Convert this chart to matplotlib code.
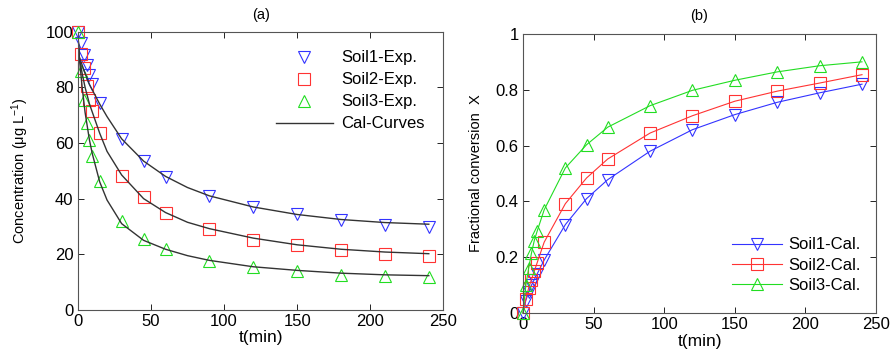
import matplotlib.pyplot as plt

plt.rcParams['font.family'] = ['Liberation Sans', 'DejaVu Sans']
plt.rcParams['mathtext.fontset'] = 'custom'
plt.rcParams['mathtext.rm'] = 'Liberation Sans'
plt.rcParams['mathtext.it'] = 'Liberation Sans'

# experimental sampling times (min)
t_exp = [0, 2, 4, 6, 8, 10, 15, 30, 45, 60, 90, 120, 150, 180, 210, 240]

# (a) concentrations (ug/L)
soil1_exp = [100, 95.8, 91.6, 87.9, 84.5, 81.3, 74.3, 61.3, 53.5, 47.9, 41.0, 36.9, 34.4, 32.3, 30.5, 29.7]
soil2_exp = [100, 92.0, 87.0, 80.5, 75.5, 71.5, 63.5, 48.3, 40.5, 35.0, 29.0, 25.2, 23.2, 21.6, 20.2, 19.3]
soil3_exp = [100, 86.0, 75.4, 67.3, 61.0, 55.4, 46.3, 32.1, 25.4, 21.8, 17.4, 15.3, 13.8, 12.6, 12.2, 11.7]

# calculated curves
t_cal = [0, 1, 3, 5, 8, 10, 15, 20, 30, 45, 60, 75, 90, 120, 150, 180, 210, 240]
soil1_cal = [100, 91, 88, 85, 81, 79, 74, 69.5, 61.5, 53.5, 48, 44, 41, 37, 34.3, 32.5, 31.4, 30.8]
soil2_cal = [100, 91, 85, 80, 74, 71, 63.5, 57, 48.5, 40, 35, 31.5, 29.2, 25.8, 23.4, 21.8, 20.8, 20.2]
soil3_cal = [100, 91, 80, 71, 61, 56, 46, 39.5, 31, 25, 21.8, 19.5, 17.8, 15.5, 14.2, 13.2, 12.6, 12.3]

# (b) fractional conversion X
soil1_x = [0, 0.045, 0.075, 0.10, 0.12, 0.14, 0.19, 0.317, 0.41, 0.478, 0.58, 0.657, 0.711, 0.755, 0.789, 0.82]
soil2_x = [0, 0.05, 0.09, 0.12, 0.15, 0.18, 0.254, 0.392, 0.484, 0.552, 0.645, 0.707, 0.759, 0.795, 0.824, 0.854]
soil3_x = [0, 0.10, 0.16, 0.215, 0.26, 0.293, 0.37, 0.52, 0.603, 0.666, 0.743, 0.798, 0.834, 0.864, 0.886, 0.90]

blue = '#3333ff'
red = '#ff3333'
green = '#22dd22'

fig = plt.figure(figsize=(8.94, 3.57), dpi=100)
ax1 = fig.add_axes([0.087, 0.132, 0.409, 0.779])
ax2 = fig.add_axes([0.585, 0.123, 0.395, 0.782])

# ---- panel (a)
ax1.plot(t_exp, soil1_exp, 'v', mfc='none', mec=blue, ms=9, mew=0.8, clip_on=False, label='Soil1-Exp.')
ax1.plot(t_exp, soil2_exp, 's', mfc='none', mec=red, ms=9, mew=0.8, clip_on=False, label='Soil2-Exp.')
ax1.plot(t_exp, soil3_exp, '^', mfc='none', mec=green, ms=9, mew=0.8, clip_on=False, label='Soil3-Exp.')
ax1.plot(t_cal, soil1_cal, '-', color='#333333', lw=1, label='Cal-Curves')
ax1.plot(t_cal, soil2_cal, '-', color='#333333', lw=1)
ax1.plot(t_cal, soil3_cal, '-', color='#333333', lw=1)
ax1.set_xlim(0, 250)
ax1.set_ylim(0, 100)
ax1.set_xticks(range(0, 251, 50))
ax1.set_yticks(range(0, 101, 20))
ax1.set_xlabel('t(min)', fontsize=12.5, labelpad=1)
ax1.set_ylabel(r'Concentration ($\mu$g L$^{-1}$)', fontsize=10.5, labelpad=11)
ax1.set_title('(a)', fontsize=10.5, pad=9)
ax1.legend(loc='upper right', bbox_to_anchor=(0.98, 0.975), frameon=False, fontsize=12,
           handlelength=3.4, handletextpad=0.5, labelspacing=0.42, borderaxespad=0.3)

# ---- panel (b)
ax2.plot(t_exp, soil1_x, '-v', color=blue, mfc='none', ms=9, mew=0.8, lw=0.8, clip_on=False, label='Soil1-Cal.')
ax2.plot(t_exp, soil2_x, '-s', color=red, mfc='none', ms=9, mew=0.8, lw=0.8, clip_on=False, label='Soil2-Cal.')
ax2.plot(t_exp, soil3_x, '-^', color=green, mfc='none', ms=9, mew=0.8, lw=0.8, clip_on=False, label='Soil3-Cal.')
ax2.set_xlim(0, 250)
ax2.set_ylim(0, 1)
ax2.set_xticks(range(0, 251, 50))
ax2.set_yticks([0, 0.2, 0.4, 0.6, 0.8, 1])
ax2.set_yticklabels(['0', '0.2', '0.4', '0.6', '0.8', '1'])
ax2.set_xlabel('t(min)', fontsize=12.5, labelpad=1)
ax2.set_ylabel('Fractional conversion  X', fontsize=10.5, labelpad=9)
ax2.set_title('(b)', fontsize=10.5, pad=10)
ax2.legend(loc='lower right', bbox_to_anchor=(0.99, 0.03), frameon=False, fontsize=12,
           handlelength=3.0, handletextpad=0.4, labelspacing=0.32, borderaxespad=0.3)

for ax in (ax1, ax2):
    ax.tick_params(direction='in', top=True, right=True, labelsize=12, length=4, width=0.6, pad=3)
    for s in ax.spines.values():
        s.set_linewidth(0.8)
        s.set_color('#555555')

fig.savefig('out.png', dpi=100)
